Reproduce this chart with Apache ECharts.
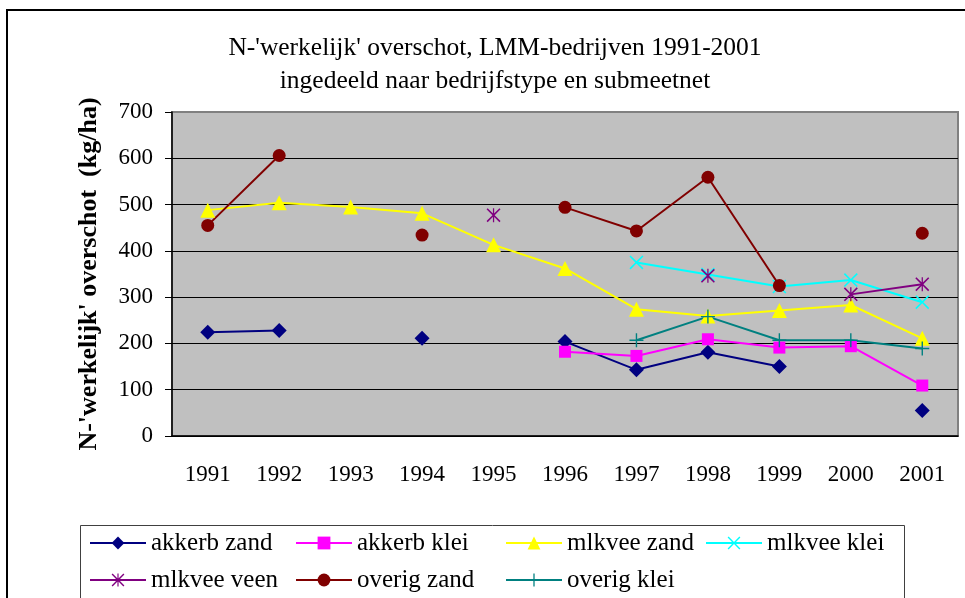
<!DOCTYPE html>
<html>
<head>
<meta charset="utf-8">
<script src="https://cdn.jsdelivr.net/npm/echarts@6/dist/echarts.min.js"></script>
<style>
  html, body { margin: 0; padding: 0; background: #fff; }
  #chart { width: 965px; height: 598px; }
</style>
</head>
<body>
<div id="chart"></div>
<script>
var years = ['1991', '1992', '1993', '1994', '1995', '1996', '1997', '1998', '1999', '2000', '2001'];
var yTicks = [0, 100, 200, 300, 400, 500, 600, 700];

var akkerbZand = [224, 228, null, 211, null, 204, 143, 181, 150, null, 55];
var akkerbKlei = [null, null, null, null, null, 182, 173, 209, 191, 194, 109];
var mlkveeZand = [488, 504, 495, 481, 413, 362, 274, 259, 271, 283, 211];
var mlkveeKlei = [null, null, null, null, null, null, 375, 349, 323, 337, 289];
var mlkveeVeen = [null, null, null, null, 477, null, null, 346, null, 306, 328];
var overigZand = [455, 606, null, 434, null, 494, 443, 559, 325, null, 438];
var overigKlei = [null, null, null, null, null, null, 207, 258, 207, 207, 189];

var seriesNames = ['akkerb zand', 'akkerb klei', 'mlkvee zand', 'mlkvee klei', 'mlkvee veen', 'overig zand', 'overig klei'];
var seriesData = [akkerbZand, akkerbKlei, mlkveeZand, mlkveeKlei, mlkveeVeen, overigZand, overigKlei];
var colors = ['#000080', '#FF00FF', '#FFFF00', '#00FFFF', '#800080', '#800000', '#008080'];

// symbols, drawn as filled outlines in a 20x20 box
var xPath = 'M0,1.6 L1.6,0 L10,8.4 L18.4,0 L20,1.6 L11.6,10 L20,18.4 L18.4,20 L10,11.6 L1.6,20 L0,18.4 L8.4,10 Z';
var starPath = xPath + ' M9.1,0 L10.9,0 L10.9,20 L9.1,20 Z';
var plusPath = 'M9,0 H11 V9 H20 V11 H11 V20 H9 V11 H0 V9 H9 Z';
var symbols = ['diamond', 'rect', 'triangle', 'path://' + xPath, 'path://' + starPath, 'circle', 'path://' + plusPath];
var sizes = [15, 12, 15, 14, 14, 13, 14];

var serif = '"Liberation Serif", "Times New Roman", serif';

var chart = echarts.init(document.getElementById('chart'));

var series = [];
for (var i = 0; i < seriesNames.length; i++) {
    series.push({
        name: seriesNames[i],
        type: 'line',
        data: seriesData[i],
        symbol: symbols[i],
        symbolSize: sizes[i],
        showAllSymbol: true,
        connectNulls: false,
        lineStyle: { color: colors[i], width: 2 },
        itemStyle: { color: colors[i] }
    });
}

// legend laid out in 4 columns, 2 rows
var legendCols = [89, 295, 505, 705];
var legendRows = [530, 567];
var legends = [];
for (var j = 0; j < seriesNames.length; j++) {
    legends.push({
        data: [seriesNames[j]],
        left: legendCols[j % 4],
        top: legendRows[Math.floor(j / 4)],
        padding: 0,
        itemWidth: 56,
        itemHeight: 16,
        textStyle: { fontFamily: serif, fontSize: 25, color: '#000', lineHeight: 26 }
    });
}

var option = {
    animation: false,
    backgroundColor: '#fff',
    title: {
        text: "N-'werkelijk' overschot, LMM-bedrijven 1991-2001\ningedeeld naar bedrijfstype en submeetnet",
        left: 490,
        top: 27,
        textAlign: 'center',
        textStyle: { fontFamily: serif, fontSize: 25.5, fontWeight: 'normal', color: '#000', lineHeight: 33 }
    },
    legend: legends,
    grid: {
        left: 172, top: 112, right: 7, bottom: 162,
        show: true,
        backgroundColor: '#C0C0C0',
        borderColor: '#808080',
        borderWidth: 2
    },
    xAxis: {
        type: 'category',
        data: years,
        boundaryGap: true,
        axisLine: { lineStyle: { color: '#000', width: 1.5 } },
        axisTick: { length: 8, lineStyle: { color: '#000' } },
        axisLabel: { fontFamily: serif, fontSize: 23, color: '#000', margin: 27 }
    },
    yAxis: {
        type: 'value',
        min: yTicks[0],
        max: yTicks[yTicks.length - 1],
        interval: 100,
        name: "N-'werkelijk' overschot  (kg/ha)",
        nameLocation: 'middle',
        nameGap: 70,
        nameRotate: 90,
        nameTextStyle: { fontFamily: serif, fontSize: 26, fontWeight: 'bold', color: '#000' },
        axisLine: { show: true, lineStyle: { color: '#000', width: 1.5 } },
        axisTick: { show: true, length: 7, lineStyle: { color: '#000' } },
        axisLabel: { fontFamily: serif, fontSize: 23, color: '#000', margin: 19 },
        splitLine: { show: true, showMaxLine: false, lineStyle: { color: '#000', width: 1 } }
    },
    graphic: [
        {
            type: 'rect',
            shape: { x: 7, y: 10, width: 1000, height: 700 },
            style: { fill: 'none', stroke: '#000', lineWidth: 2 },
            silent: true
        },
        {
            type: 'rect',
            shape: { x: 80.5, y: 525.5, width: 824, height: 100 },
            style: { fill: 'none', stroke: '#404040', lineWidth: 1 },
            silent: true
        }
    ],
    series: series
};

chart.setOption(option);
</script>
</body>
</html>
